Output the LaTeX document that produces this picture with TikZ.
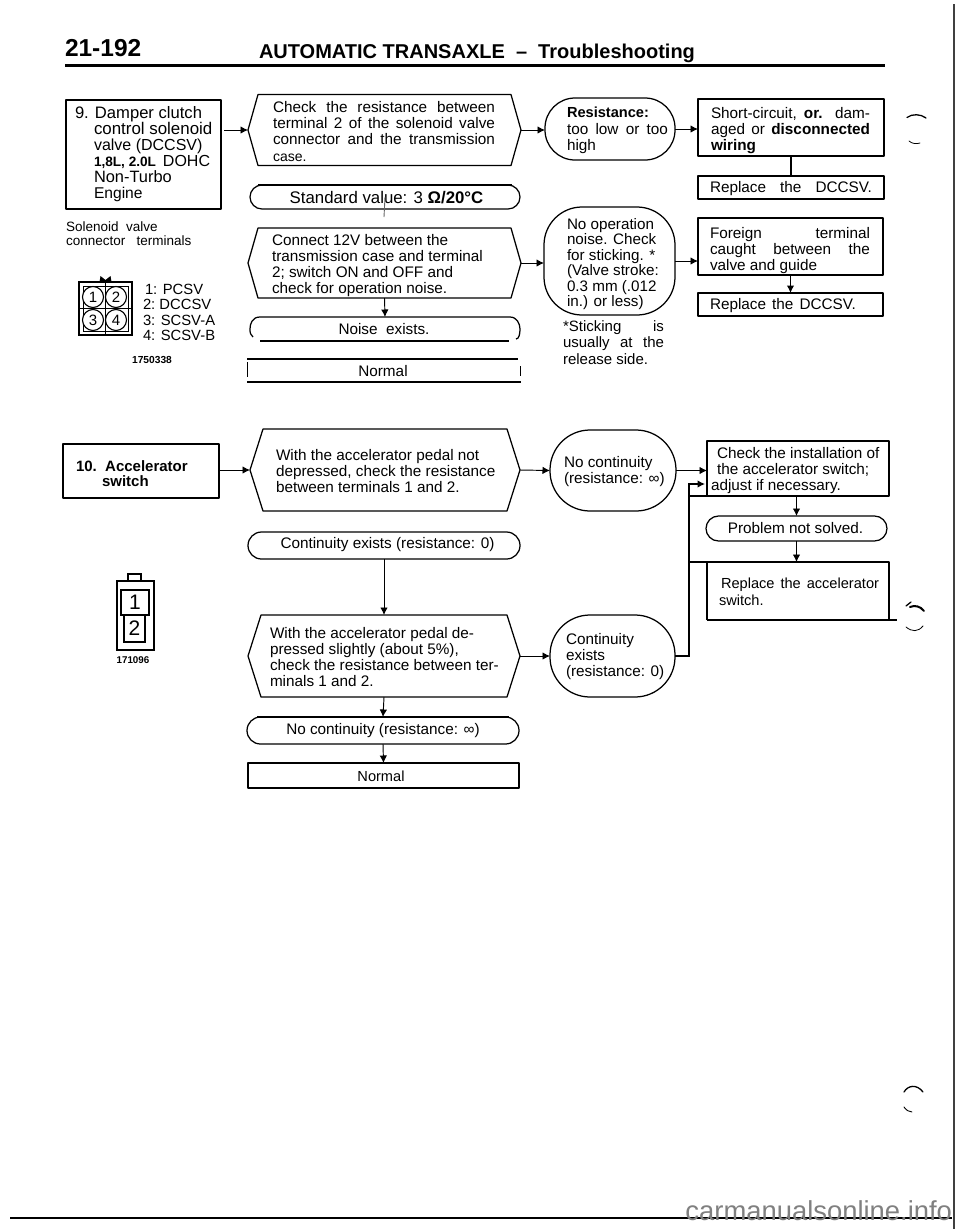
\documentclass[tikz,border=0pt]{standalone}
\usepackage{fontspec}
\setmainfont{Liberation Sans}
\usetikzlibrary{arrows.meta,calc}
\newcommand\jl[2]{\makebox[#1pt][s]{#2}}
\newcommand\place[5]{%
  \pgfmathsetmacro\pw{#4-#2}\pgfmathsetmacro\ph{#5-#3}%
  \pgfmathsetmacro\pcx{(#4+#2)/2}\pgfmathsetmacro\pcy{(#5+#3)/2}%
  \node[anchor=center,inner sep=0,outer sep=0,minimum width=\pw pt,minimum height=\ph pt] (#1) at (\pcx,\pcy) {};}
\newcommand\hexa[2]{\draw[boxline] (#1.west) -- ([xshift=#2pt]#1.north west) -- ([xshift=-#2pt]#1.north east) -- (#1.east) -- ([xshift=-#2pt]#1.south east) -- ([xshift=#2pt]#1.south west) -- cycle;}
\newcommand\rectb[1]{\draw[boxline] (#1.north west) rectangle (#1.south east);}
\newcommand\rnd[2]{\draw[boxline,rounded corners=#2pt] (#1.north west) rectangle (#1.south east);}
\newcommand\thicktop[1]{\draw[line width=2.2pt] (#1.north west) -- (#1.north east);}
\newcommand\sz[1]{\fontsize{#1}{16}\selectfont}
\tikzset{
  boxline/.style={line width=1.25pt,line join=round},
  arr/.style={line width=0.95pt,-{Latex[length=7.5pt,width=7.5pt]}},
  txt/.style={inner sep=0,outer sep=0,anchor=north west,align=left},
  ctr/.style={inner sep=0,outer sep=0,anchor=center,align=center},
  tf/.style={font=\fontsize{#1}{16}\selectfont},
  punch/.style={line width=1.3pt,line cap=round},
}
\begin{document}
\begin{tikzpicture}[x=1pt,y=-1pt]
\useasboundingbox (0,0) rectangle (960,1229);
\fill[white] (0,0) rectangle (960,1229);
% frame rules
\coordinate (frameT) at (954,4); \coordinate (frameB) at (954,1229);
\draw[line width=1.2pt,black!75] (frameT) -- (frameB);
\coordinate (botL) at (10,1218); \coordinate (botR) at (952,1218);
\draw[line width=1.6pt] (botL) -- (botR);
\node[txt,anchor=base east,text=black!50,font=\fontsize{27.4}{30}\selectfont] (wm) at (952,1220) {carmanualsonline.info};
% header
\node[txt,anchor=base west,font=\fontsize{24.5}{26}\selectfont\bfseries] (pageno) at (65,56.5) {21-192};
\node[txt,anchor=base west,font=\fontsize{20}{24}\selectfont\bfseries] (title) at (259,58) {AUTOMATIC TRANSAXLE\ \ –\ \ Troubleshooting};
\coordinate (ruleL) at (65,65.5); \coordinate (ruleR) at (885,65.5);
\draw[line width=3.5pt] (ruleL) -- (ruleR);

% ---- section 9 ----
\place{b9}{66}{100}{221}{209}\rectb{b9}
\node[txt,tf=16.5] (b9t) at (75,106) {{\sz{16.6}9. Damper clutch}\\
\hspace*{19pt}{\sz{16.9}control solenoid}\\
\hspace*{19pt}{\sz{16}valve (DCCSV)}\\
\hspace*{19pt}{\sz{13.6}\bfseries 1,8L, 2.0L}\hspace{7pt}{\sz{16}DOHC}\\
\hspace*{19pt}{\sz{16.4}Non-Turbo}\\
\hspace*{19pt}{\sz{15.6}Engine}};
\node[txt,font=\fontsize{13.5}{14.4}\selectfont] (solt) at (66,221.5) {Solenoid\ \ valve\\connector\ \ \ terminals};
% connector 1
\place{c1}{79}{282}{132}{335}
\draw[line width=2.2pt] (c1.north west) rectangle (c1.south east);
\draw[line width=1pt] ([xshift=4pt,yshift=-4pt]c1.north west) -- ([xshift=-4pt,yshift=-4pt]c1.north east) -- ([xshift=-4pt,yshift=4pt]c1.south east) -- ([xshift=4pt,yshift=4pt]c1.south west) -- cycle;
\draw[line width=1pt] (c1.north) -- (c1.south) (c1.west) -- (c1.east);
\fill ([xshift=-6pt]c1.north) -- ++(1,-6) -- ++(5,4) -- ++(5,-4) -- ++(1,6) -- cycle;
\foreach \n/\cx/\cy in {1/93/297,2/116/297,3/93/320,4/116/320}
  \node[circle,draw,line width=1.1pt,fill=white,inner sep=0,minimum size=21pt,font=\fontsize{15}{15}\selectfont] (pin\n) at (\cx,\cy) {\n};
\node[txt,font=\fontsize{14.8}{15.4}\selectfont] (c1t) at (143,284) {\hspace*{2pt}1: PCSV\\2:\ DCCSV\\3: SCSV-A\\4: SCSV-B};
\node[ctr,font=\fontsize{10.2}{11}\selectfont\bfseries] (c1id) at (152,359.5) {1750338};

% hex 1
\place{h1}{248}{94.5}{521}{165.5}\hexa{h1}{10}
\node[txt,tf=15.3] (h1t) at (273,101.5) {\jl{222}{Check the resistance between}\\\jl{222}{terminal 2 of the solenoid valve}\\\jl{222}{connector and the transmission}\\[1pt]{\fontsize{14}{14}\selectfont case.}};
% standard pill
\place{p1}{250}{185}{520}{209}\rnd{p1}{12}
\draw[line width=2.2pt] ([xshift=8pt]p1.north west) -- ([xshift=-8pt]p1.north east);
\node[ctr,font=\fontsize{16.8}{18}\selectfont] (p1t) at (386.5,197.5) {Standard value: 3 {\bfseries Ω/20°C}};
\coordinate (p1stub) at (384,217);
\draw[line width=0.9pt,black!60] (p1.center) -- (p1stub);
% hex 2
\place{h2}{248}{228}{521}{298}\hexa{h2}{10}
\node[txt,tf=15.3] (h2t) at (272,234) {Connect 12V between the\\transmission case and terminal\\2; switch ON and OFF and\\check for operation noise.};
% noise pill
\place{p2}{250}{317}{520}{341}
\draw[boxline] ([xshift=10pt]p2.south west) -- ([xshift=-11pt]p2.south east);
\draw[boxline] ([xshift=3pt,yshift=4pt]p2.south west)
  .. controls ([xshift=0.5pt,yshift=6pt]p2.south west) and ([yshift=-4pt]p2.west) .. (p2.west)
  .. controls ([yshift=5pt]p2.west) and ([xshift=2pt]p2.north west) .. ([xshift=10pt]p2.north west)
  -- ([xshift=-10pt]p2.north east)
  .. controls ([xshift=-3pt]p2.north east) and ([yshift=5pt]p2.east) .. (p2.east)
  .. controls ([yshift=-5pt]p2.east) and ([xshift=-1pt,yshift=2pt]p2.south east) .. ([xshift=-4pt,yshift=2pt]p2.south east);
\node[ctr,font=\fontsize{15.3}{16}\selectfont] (p2t) at (384,329) {Noise\ \ exists.};
% normal 1
\place{n1}{247}{359}{521}{382}
\draw[line width=1.8pt] (n1.north west) -- ([xshift=-3pt]n1.north east) (n1.south west) -- (n1.south east);
\draw[line width=0.9pt] ([yshift=-3pt]n1.north west) -- ([yshift=5pt]n1.south west)
  ([xshift=-1pt,yshift=-7pt]n1.north east) -- ([xshift=-1pt,yshift=6pt]n1.south east);
\node[ctr,font=\fontsize{15.3}{16}\selectfont] (n1t) at (383,371) {Normal};
% ovals
\place{o1}{545}{98}{675}{160}\rnd{o1}{30}
\node[txt,font=\fontsize{15.3}{16.5}\selectfont] (o1t) at (567,107) {{\bfseries\fontsize{14.6}{15}\selectfont Resistance:}\\\jl{101}{too low or too}\\high};
\place{o2}{544}{207}{675}{315}\rnd{o2}{38}
\node[txt,font=\fontsize{15.2}{15.4}\selectfont] (o2t) at (567,218.5) {No operation\\noise. Check\\for sticking. *\\(Valve stroke:\\0.3 mm (.012\\in.) or less)};
\node[txt,font=\fontsize{15}{16.4}\selectfont] (stick) at (563,320.5) {\jl{101}{*Sticking is}\\\jl{101}{usually at the}\\release side.};
% right boxes 9
\place{r1}{698}{99}{884}{156}\rectb{r1}
\node[txt,font=\fontsize{15.3}{16.4}\selectfont] (r1t) at (711,107) {\jl{159}{Short-circuit, {\bfseries or.} dam-}\\\jl{159}{aged or {\bfseries disconnected}}\\{\bfseries wiring}};
\place{r2}{698}{176}{884}{199}\rectb{r2}\thicktop{r2}
\node[txt,anchor=west,font=\fontsize{15.3}{16}\selectfont] (r2t) at (710,188.5) {\jl{162}{Replace the DCCSV.}};
\place{r3}{698}{218}{883}{275}\rectb{r3}\thicktop{r3}
\node[txt,tf=15.3] (r3t) at (710,227.5) {\jl{160}{Foreign \hspace{40pt} terminal}\\\jl{160}{caught between the}\\valve and guide};
\place{r4}{698}{293}{883}{316}\rectb{r4}\thicktop{r4}
\node[txt,anchor=west,font=\fontsize{15.3}{16}\selectfont] (r4t) at (710,305.5) {\jl{146}{Replace the DCCSV.}};
% connectors 9
\draw[arr,shorten <=3pt] (b9.east |- h1.west) -- (h1.west);
\draw[arr] (h1.east) -- (h1.east -| o1.west);
\draw[arr] (o1.east) -- (o1.east -| r1.west);
\draw[line width=1.4pt] (r1.south) -- (r1.south |- r2.north);
\draw[arr] (h2.south) -- (p2.north);
\draw[arr] (h2.east) -- (h2.east -| o2.west);
\draw[arr] (o2.east) -- (o2.east -| r3.west);
\draw[arr,line width=1.2pt] (r3.south) -- (r3.south |- r4.north);

% ---- section 10 ----
\place{b10}{63}{444}{219}{498}\rectb{b10}
\node[txt,font=\fontsize{15}{15.4}\selectfont\bfseries] (b10t) at (76,460.5) {10.\ \ Accelerator\\\hspace*{26pt}switch};
% connector 2
\place{c2}{117}{581}{154}{650}
\draw[line width=1.8pt] (c2.north west) rectangle (c2.south east);
\place{c2tab}{128}{574}{141}{581}
\draw[line width=1.4pt] (c2tab.south west) -- (c2tab.north west) -- (c2tab.north east) -- (c2tab.south east);
\node[draw,line width=1.2pt,fill=white,inner sep=0,minimum width=21pt,minimum height=27pt,font=\fontsize{21}{21}\selectfont] (k2) at (134.5,628.5) {2};
\node[draw,line width=1.2pt,fill=white,inner sep=0,minimum width=28pt,minimum height=25pt,font=\fontsize{21}{21}\selectfont] (k1) at (135,602.5) {1};
\node[ctr,font=\fontsize{9.8}{11}\selectfont\bfseries] (c2id) at (133,660) {171096};

\place{h3}{250}{429}{520}{511}\hexa{h3}{13}
\node[txt,tf=15.3] (h3t) at (276,449.5) {With the accelerator pedal not\\depressed, check the resistance\\between terminals 1 and 2.};
\place{p3}{248}{532}{520}{559}\rnd{p3}{13.5}
\node[ctr,font=\fontsize{15.3}{16}\selectfont] (p3t) at (387.5,545) {Continuity exists (resistance: 0)};
\place{h4}{248}{615}{520}{697}\hexa{h4}{13}
\node[txt,tf=15.3] (h4t) at (270,627) {With the accelerator pedal de-\\pressed slightly (about 5\%),\\check the resistance between ter-\\minals 1 and 2.};
\place{p4}{247}{717}{519}{744}\rnd{p4}{13.5}
\draw[line width=2.2pt] ([xshift=10pt]p4.north west) -- ([xshift=-10pt]p4.north east);
\node[ctr,font=\fontsize{15.3}{16}\selectfont] (p4t) at (383,731) {No continuity\ (resistance: ∞)};
\place{n2}{248}{763}{519}{788}\rectb{n2}\thicktop{n2}
\node[ctr,font=\fontsize{14.6}{16}\selectfont] (n2t) at (381,776) {Normal};

\place{o3}{550}{430}{676}{511}\rnd{o3}{40}
\node[txt,tf=15.3] (o3t) at (564,456) {No continuity\\(resistance: ∞)};
\place{o4}{550}{615}{675}{697}\rnd{o4}{40}
\node[txt,tf=15.3] (o4t) at (566,633.5) {Continuity\\exists\\(resistance: 0)};
\place{r5}{707}{441}{889}{496}\rectb{r5}
\node[txt,tf=15.3] (r5t) at (717,447.5) {Check the installation of\\the accelerator switch;\\\hspace*{-6pt}adjust if necessary.};
\place{p5}{706}{516}{887}{541}\rnd{p5}{12.5}
\node[ctr,font=\fontsize{15.3}{16}\selectfont] (p5t) at (795.5,528) {Problem not solved.};
\place{r6}{707}{562}{889}{620}
\draw[boxline] (r6.south west) -- (r6.north west) -- (r6.north east) -- (r6.south east);
\coordinate (r6tail) at (897,620);
\draw[boxline] (r6.south west) -- (r6tail);
\node[txt,font=\fontsize{14.6}{16.6}\selectfont] (r6t) at (719,578) {\hspace*{2pt}\jl{158}{Replace the accelerator}\\switch.};
% connectors 10
\draw[arr] (b10.east |- h3.west) -- (h3.west);
\draw[arr] (h3.east) -- (o3.west);
\draw[arr] (o3.east) -- (o3.east -| r5.west);
\draw[arr] (p3.south) -- (h4.north);
\draw[arr] (h4.south) -- (p4.north);
\draw[arr] (p4.south) -- (n2.north);
\draw[arr] (h4.east) -- (o4.west);
\coordinate (busX) at (689,0);
\coordinate (in2) at (705,484);
\draw[arr,line width=1.2pt] (o4.east) -- (o4.east -| busX) -- (in2 -| busX) -- (in2);
\draw[boxline] (r5.south west) -- (r5.south west -| busX);
\draw[boxline] (r6.north west) -- (r6.north west -| busX);
\draw[arr] (r5.south -| p5.north) -- (p5.north);
\draw[arr] (p5.south) -- (p5.south |- r6.north);

% punch marks
\draw[punch] (907,117.5) .. controls (912,113.5) and (921,114) .. (926,118);
\draw[punch,line width=.8pt] (909,141) .. controls (912,144) and (917,144) .. (920,143);
\draw[punch] (906,606) -- (911,602);
\draw[punch,line width=2pt] (910,607) .. controls (915,605) and (920,606) .. (924,611);
\draw[punch,line width=.8pt] (906,627) .. controls (912,632) and (918,632) .. (923,626);
\draw[punch] (904,1092) .. controls (908,1085) and (917,1084) .. (923,1092);
\draw[punch,line width=.9pt] (904,1107) .. controls (906,1110) and (909,1112) .. (912,1112);
\end{tikzpicture}
\end{document}
